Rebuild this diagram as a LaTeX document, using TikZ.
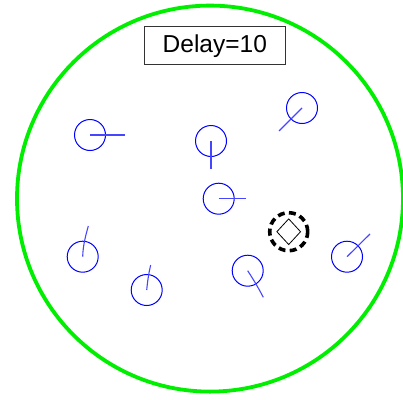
\documentclass[tikz,border=0pt]{standalone}
\usepackage{fontspec}
\setmainfont{Liberation Sans}
\usetikzlibrary{shapes.geometric}
\definecolor{zonegreen}{RGB}{0,238,0}
\definecolor{dirblue}{RGB}{70,70,255}
\tikzset{
  agent/.style={circle, draw=blue, line width=1pt, minimum size=31pt, inner sep=0pt},
  heading/.style={draw=dirblue, line width=1.1pt},
  zone/.style={circle, draw=zonegreen, line width=3.8pt, minimum size=386pt, inner sep=0pt},
  target/.style={circle, draw=black, line width=3.6pt, minimum size=38pt, inner sep=0pt, dash pattern=on 7pt off 4.3pt},
  marker/.style={diamond, draw=black, line width=0.8pt, minimum width=24pt, minimum height=26pt, inner sep=0pt},
  labelbox/.style={draw=black!80, line width=0.8pt, minimum width=141pt, minimum height=38pt, inner sep=0pt, font=\fontsize{24.5}{28}\selectfont}
}
\begin{document}
\begin{tikzpicture}[x=1pt,y=-1pt]
\useasboundingbox (0,0) rectangle (403,399);
\node[zone] (z) at (210,198.6) {};
\node[labelbox] (lbl) at (214.8,45.7) {Delay=10};
% agents
\node[agent] (a1) at (90,135) {};
\node[agent] (a2) at (211,141) {};
\node[agent] (a3) at (302,108) {};
\node[agent] (a4) at (218.7,198.7) {};
\node[agent] (a6) at (82.7,256.7) {};
\node[agent] (a7) at (146.7,290) {};
\node[agent] (a8) at (247.7,270.7) {};
\node[agent] (a9) at (347,256.7) {};
% target
\node[target] (t) at (288.7,231.7) {};
\node[marker] (m) at (288.7,231.7) {};
% heading end points
\coordinate (h1) at (125,135);
\coordinate (h2) at (211,169);
\coordinate (h3) at (279,131);
\coordinate (h4) at (245.7,198.7);
\coordinate (h6) at (88.3,226);
\coordinate (h7) at (150.7,265);
\coordinate (h8) at (263.3,297.3);
\coordinate (h9) at (370,234);
\draw[heading] (a1.center) -- (h1);
\draw[heading] (a2.center) -- (h2);
\draw[heading] (a3.center) -- (h3);
\draw[heading] (a4.center) -- (h4);
\draw[heading] (a6.center) .. controls (83,246) and (85,238) .. (h6);
\draw[heading] (a7.center) .. controls (147.5,282) and (148.5,274) .. (h7);
\draw[heading] (a8.center) .. controls (253,279) and (258,287) .. (h8);
\draw[heading] (a9.center) -- (h9);
\end{tikzpicture}
\end{document}
